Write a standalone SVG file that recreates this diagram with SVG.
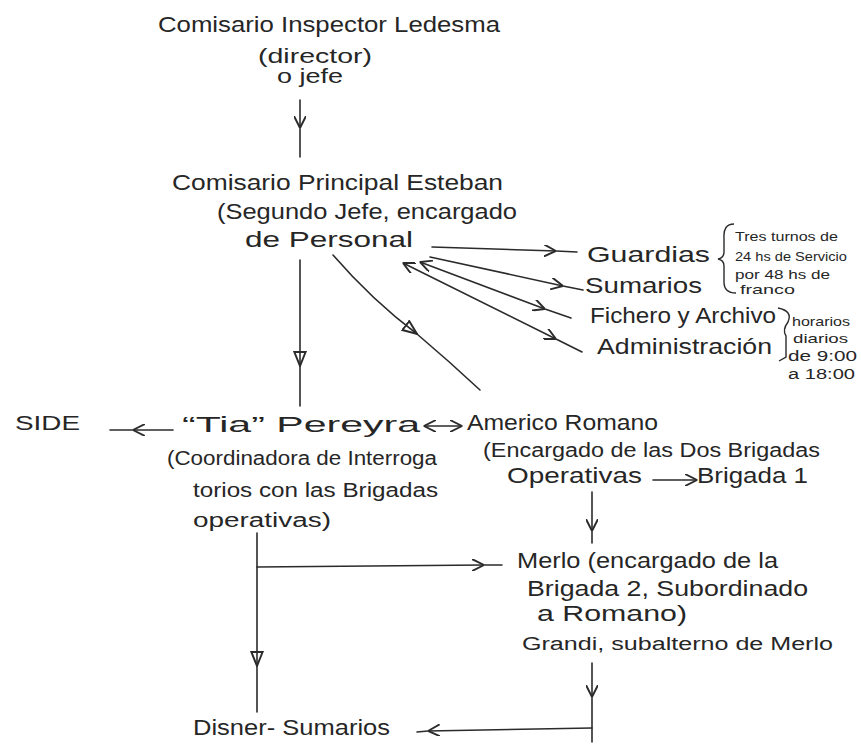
<svg xmlns="http://www.w3.org/2000/svg" width="861" height="745" viewBox="0 0 861 745">
<style>
text{font-family:"Liberation Sans","DejaVu Sans",sans-serif;fill:#262626;}
.l{font-size:22px;}
.m{font-size:20px;}
.s{font-size:13px;}
.c path{fill:none;stroke:#2b2b2b;stroke-width:1.6;stroke-linecap:round;}
.br{fill:none;stroke:#2b2b2b;stroke-width:1.4;}
</style>
<defs>
<marker id="v" viewBox="0 0 10 10" refX="10" refY="5" markerWidth="12" markerHeight="12" markerUnits="userSpaceOnUse" orient="auto-start-reverse">
<path d="M0,0 L10,5 L0,10" fill="none" stroke="#2b2b2b" stroke-width="1.6"/>
</marker>
<marker id="t" viewBox="0 0 10 10" refX="10" refY="5" markerWidth="16" markerHeight="14" markerUnits="userSpaceOnUse" orient="auto">
<path d="M0,1 L10,5 L0,9 Z" fill="none" stroke="#2b2b2b" stroke-width="1.4"/>
</marker>
</defs>
<rect width="861" height="745" fill="#ffffff"/>
<g id="ledesma">
<text class="l" x="158" y="32" textLength="342" lengthAdjust="spacingAndGlyphs">Comisario Inspector Ledesma</text>
<text class="m" x="258" y="63" textLength="114" lengthAdjust="spacingAndGlyphs">(director)</text>
<text class="m" x="277" y="83" textLength="66" lengthAdjust="spacingAndGlyphs">o jefe</text>
</g>
<g id="esteban">
<text class="l" x="172" y="190" textLength="331" lengthAdjust="spacingAndGlyphs">Comisario Principal Esteban</text>
<text class="l" x="217" y="219" textLength="300" lengthAdjust="spacingAndGlyphs">(Segundo Jefe, encargado</text>
<text class="l" x="245" y="247" textLength="168" lengthAdjust="spacingAndGlyphs">de Personal</text>
</g>
<g id="guardias">
<text class="l" x="587" y="262" textLength="123" lengthAdjust="spacingAndGlyphs">Guardias</text>
<path class="br" d="M734,224 Q723,224 724,238 L724,252 Q724,258 718,259 Q724,260 724,266 L724,282 Q724,293 736,293"/>
<text class="s" x="735" y="241" textLength="103" lengthAdjust="spacingAndGlyphs">Tres turnos de</text>
<text class="s" x="735" y="261" textLength="112" lengthAdjust="spacingAndGlyphs">24 hs de Servicio</text>
<text class="s" x="735" y="279" textLength="95" lengthAdjust="spacingAndGlyphs">por 48 hs de</text>
<text class="s" x="740" y="294" textLength="55" lengthAdjust="spacingAndGlyphs">franco</text>
</g>
<g id="sumarios">
<text class="l" x="585" y="293" textLength="117" lengthAdjust="spacingAndGlyphs">Sumarios</text>
</g>
<g id="fichero">
<text class="l" x="590" y="323" textLength="186" lengthAdjust="spacingAndGlyphs">Fichero y Archivo</text>
</g>
<g id="administracion">
<text class="l" x="597" y="354" textLength="175" lengthAdjust="spacingAndGlyphs">Administración</text>
<path class="br" d="M778,308 Q793,311 788,322 Q782,330 786,336 L786,357 L779,361"/>
<text class="s" x="792" y="326" textLength="58" lengthAdjust="spacingAndGlyphs">horarios</text>
<text class="s" x="793" y="343" textLength="55" lengthAdjust="spacingAndGlyphs">diarios</text>
<text class="s" x="788" y="361" textLength="69" lengthAdjust="spacingAndGlyphs" style="font-size:14px">de 9:00</text>
<text class="s" x="788" y="379" textLength="67" lengthAdjust="spacingAndGlyphs" style="font-size:14px">a 18:00</text>
</g>
<g id="side">
<text class="m" x="15" y="430" textLength="65" lengthAdjust="spacingAndGlyphs">SIDE</text>
</g>
<g id="pereyra">
<text class="l" x="182" y="432" textLength="238" lengthAdjust="spacingAndGlyphs">“Tia” Pereyra</text>
<text class="m" x="167" y="465" textLength="270" lengthAdjust="spacingAndGlyphs">(Coordinadora de Interroga</text>
<text class="m" x="193" y="497" textLength="245" lengthAdjust="spacingAndGlyphs">torios con las Brigadas</text>
<text class="m" x="193" y="527" textLength="138" lengthAdjust="spacingAndGlyphs">operativas)</text>
</g>
<g id="romano">
<text class="l" x="467" y="430" textLength="191" lengthAdjust="spacingAndGlyphs">Americo Romano</text>
<text class="m" x="483" y="457" textLength="337" lengthAdjust="spacingAndGlyphs">(Encargado de las Dos Brigadas</text>
<text class="l" x="507" y="483" textLength="135" lengthAdjust="spacingAndGlyphs">Operativas</text>
</g>
<g id="brigada1">
<text class="l" x="697" y="483" textLength="111" lengthAdjust="spacingAndGlyphs">Brigada 1</text>
</g>
<g id="merlo">
<text class="l" x="517" y="568" textLength="261" lengthAdjust="spacingAndGlyphs">Merlo (encargado de la</text>
<text class="l" x="527" y="596" textLength="281" lengthAdjust="spacingAndGlyphs">Brigada 2, Subordinado</text>
<text class="l" x="537" y="621" textLength="150" lengthAdjust="spacingAndGlyphs">a Romano)</text>
<text class="m" x="522" y="650" textLength="311" lengthAdjust="spacingAndGlyphs" style="font-size:18px">Grandi, subalterno de Merlo</text>
</g>
<g id="disner">
<text class="l" x="193" y="735" textLength="197" lengthAdjust="spacingAndGlyphs">Disner- Sumarios</text>
</g>
<g id="connectors" class="c">
<path d="M300,100 L300,128 L300,157" marker-mid="url(#v)"/>
<path d="M300,260 L300,366 L300,406" marker-mid="url(#t)"/>
<path d="M333,255 Q372,300 417,334" marker-end="url(#t)"/>
<path d="M417,334 Q450,362 480,390"/>
<path d="M432,247 L556,251 L577,252" marker-mid="url(#v)"/>
<path d="M430,257 L563,286 L583,290" marker-mid="url(#v)"/>
<path d="M420,262 L545,309 L571,318" marker-start="url(#v)" marker-mid="url(#v)"/>
<path d="M403,263 L556,339 L582,352" marker-start="url(#v)" marker-mid="url(#v)"/>
<path d="M173,430 L133,430 L110,430" marker-mid="url(#v)"/>
<path d="M424,426 L462,426" marker-start="url(#v)" marker-end="url(#v)"/>
<path d="M653,480 L697,480" marker-end="url(#v)"/>
<path d="M592,492 L592,531 L592,543" marker-mid="url(#v)"/>
<path d="M257,533 L257,666 L257,712" marker-mid="url(#t)"/>
<path d="M257,567 L484,565 L502,565" marker-mid="url(#v)"/>
<path d="M592,663 L592,697 L592,742" marker-mid="url(#v)"/>
<path d="M592,728 L428,731 L417,732" marker-mid="url(#v)"/>
</g>
</svg>
